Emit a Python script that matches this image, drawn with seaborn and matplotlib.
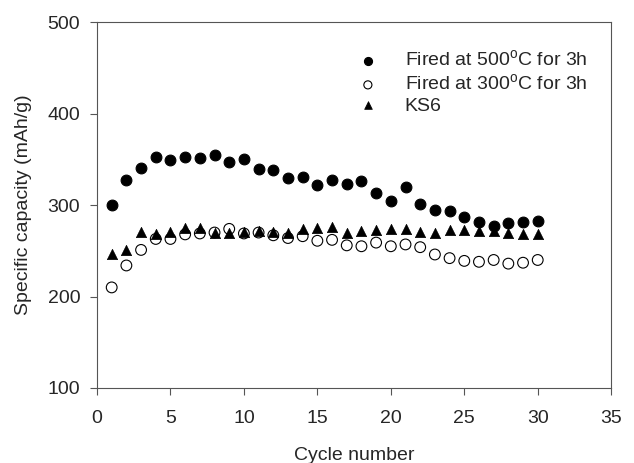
import numpy as np
import pandas as pd
import matplotlib
matplotlib.use("Agg")
import matplotlib.pyplot as plt
import seaborn as sns

# cycle numbers and capacities (mAh/g)
cycles = list(range(1, 31))
fired_500 = [300, 327, 341, 353, 349, 353, 352, 355, 347, 350,
             339, 338, 330, 331, 322, 328, 323, 326, 313, 305,
             320, 301, 295, 294, 287, 282, 277, 280, 281, 283]
fired_300 = [210, 234, 251, 263, 263, 268, 269, 270, 274, 269,
             270, 267, 264, 266, 261, 262, 256, 255, 259, 255,
             257, 254, 246, 242, 239, 238, 240, 236, 237, 240]
ks6 = [246, 251, 271, 268, 271, 275, 275, 270, 270, 271,
       272, 271, 269, 274, 275, 276, 270, 272, 273, 274,
       274, 271, 270, 273, 273, 272, 272, 269, 268, 268]

labels = ["Fired at 500$^{\\mathrm{o}}$C for 3h",
          "Fired at 300$^{\\mathrm{o}}$C for 3h",
          "KS6"]
x_ticks = [0, 5, 10, 15, 20, 25, 30, 35]
y_ticks = [100, 200, 300, 400, 500]

sns.set_style("white")
plt.rcParams['font.family'] = ['Liberation Sans', 'DejaVu Sans']
plt.rcParams['mathtext.fontset'] = 'custom'
plt.rcParams['mathtext.rm'] = 'Liberation Sans'

fig = plt.figure(figsize=(6.34, 4.63), dpi=100)
ax = fig.add_axes([0.153, 0.162, 0.811, 0.790])

sns.scatterplot(x=cycles, y=fired_500, ax=ax, marker="o", s=60,
                color="black", edgecolor="black", linewidth=0.8, label=labels[0])
sns.scatterplot(x=cycles, y=fired_300, ax=ax, marker="o", s=60,
                facecolor="none", edgecolor="black", linewidth=0.8, label=labels[1])
sns.scatterplot(x=cycles, y=ks6, ax=ax, marker="^", s=55,
                color="black", edgecolor="black", linewidth=0.5, label=labels[2])

ax.set_xlim(0, 35)
ax.set_ylim(100, 500)
ax.set_xticks(x_ticks)
ax.set_yticks(y_ticks)
ax.tick_params(direction="out", length=5, width=0.8, color="#555555",
               labelsize=14, bottom=True, left=True)
ax.tick_params(axis="x", pad=11)
ax.tick_params(axis="y", pad=7)
for sp in ax.spines.values():
    sp.set_color("#555555")
    sp.set_linewidth(0.8)

ax.set_xlabel("Cycle number", fontsize=14, labelpad=14)
ax.set_ylabel("Specific capacity (mAh/g)", fontsize=14, labelpad=11)

leg = ax.legend(loc="upper left", frameon=False, fontsize=14,
                handlelength=2.0, handletextpad=0.9, labelspacing=0.15,
                markerscale=0.75, borderpad=0, borderaxespad=0,
                bbox_to_anchor=(0.489, 0.925))

fig.savefig("out.png", dpi=100)
